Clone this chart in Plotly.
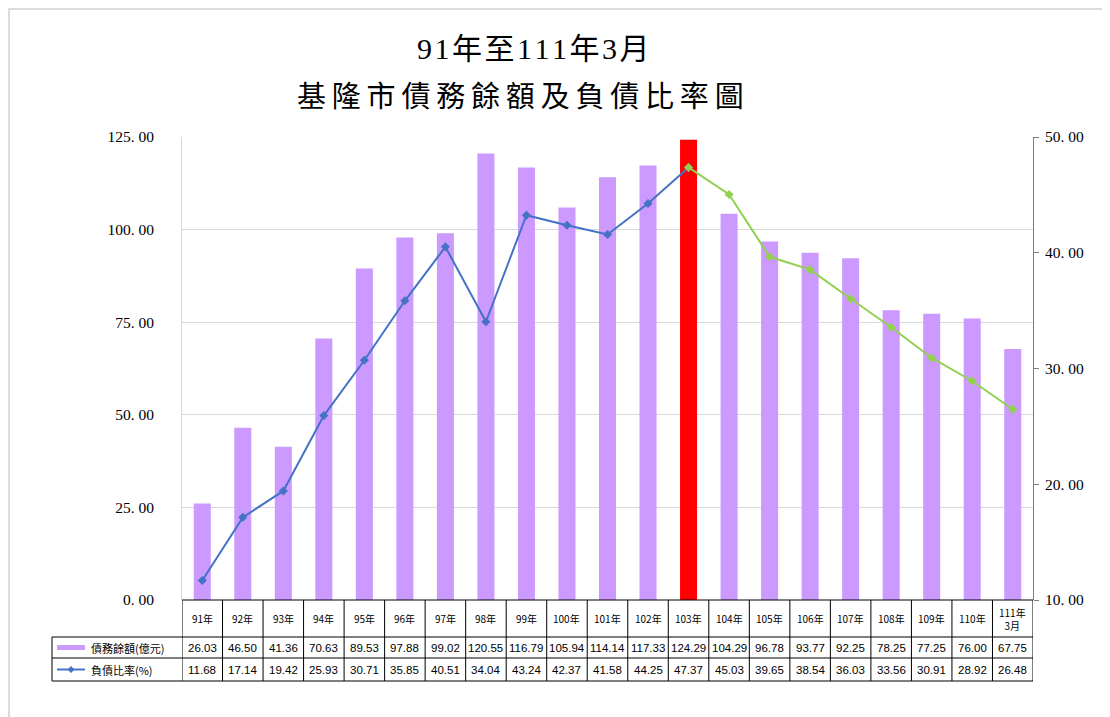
import plotly.graph_objects as go

categories = ["91年", "92年", "93年", "94年", "95年", "96年", "97年", "98年", "99年", "100年",
              "101年", "102年", "103年", "104年", "105年", "106年", "107年", "108年", "109年",
              "110年", "111年<br>3月"]
debt = [26.03, 46.50, 41.36, 70.63, 89.53, 97.88, 99.02, 120.55, 116.79, 105.94,
        114.14, 117.33, 124.29, 104.29, 96.78, 93.77, 92.25, 78.25, 77.25, 76.00, 67.75]
ratio = [11.68, 17.14, 19.42, 25.93, 30.71, 35.85, 40.51, 34.04, 43.24, 42.37,
         41.58, 44.25, 47.37, 45.03, 39.65, 38.54, 36.03, 33.56, 30.91, 28.92, 26.48]
highlight_index = 12
row_labels = ["債務餘額(億元)", "負債比率(%)"]
title_lines = ["91年至111年3月", "基隆市債務餘額及負債比率圖"]

W, H = 1110, 717
OFF = 8  # page body margin
L, R, T, B = 182 - OFF, 1033 - OFF, 137 - OFF, 600 - OFF
n = len(categories)
x = list(range(n))

PURPLE = "#CC99FF"
RED = "#FF0000"
BLUE = "#4472C4"
GREEN = "#92D050"
FONT = "Liberation Serif, Noto Sans CJK TC"
CJK = "Noto Sans CJK TC"

bar_colors = [RED if i == highlight_index else PURPLE for i in x]

fig = go.Figure()
fig.add_trace(go.Bar(x=x, y=debt, marker=dict(color=bar_colors, line=dict(width=0)),
                     width=0.42, yaxis="y", showlegend=False, hoverinfo="y"))
fig.add_trace(go.Scatter(x=x[:highlight_index + 1], y=ratio[:highlight_index + 1], yaxis="y2",
                         mode="lines+markers", line=dict(color=BLUE, width=2),
                         marker=dict(symbol="diamond", size=7, color=BLUE), showlegend=False))
fig.add_trace(go.Scatter(x=x[highlight_index:], y=ratio[highlight_index:], yaxis="y2",
                         mode="lines+markers", line=dict(color=GREEN, width=2),
                         marker=dict(symbol="diamond", size=7, color=GREEN), showlegend=False))


def py(pix):
    return (B - (pix - OFF)) / (B - T)


def px(pix):
    return ((pix - OFF) - L) / (R - L)


shapes = []
annotations = []

# table geometry (reference page pixels)
y_head_top, y_head_bot, y_r1_bot, y_r2_bot = 600, 637, 658, 681
table_left = 52
line = dict(color="#000000", width=1)

shapes.append(dict(type="line", xref="paper", yref="paper", x0=0, x1=1,
                   y0=py(y_head_top), y1=py(y_head_top), line=line))
for yy in [y_head_bot, y_r1_bot, y_r2_bot]:
    shapes.append(dict(type="line", xref="paper", yref="paper", x0=px(table_left), x1=1,
                       y0=py(yy), y1=py(yy), line=line))
for i in range(n + 1):
    shapes.append(dict(type="line", xref="x", yref="paper", x0=i - 0.5, x1=i - 0.5,
                       y0=py(y_head_top), y1=py(y_r2_bot), line=line))
shapes.append(dict(type="line", xref="paper", yref="paper", x0=px(table_left), x1=px(table_left),
                   y0=py(y_head_bot), y1=py(y_r2_bot), line=line))

# outer light border
shapes.append(dict(type="rect", xref="paper", yref="paper", x0=px(OFF + 1), x1=px(1130),
                   y0=py(740), y1=py(OFF + 1), line=dict(color="#D0D0D0", width=1.5)))

for i in x:
    annotations.append(dict(x=i, y=py((y_head_top + y_head_bot) / 2), xref="x", yref="paper",
                            text=categories[i], showarrow=False, xanchor="center",
                            font=dict(family=CJK, size=10, color="#000"), yanchor="middle"))
    annotations.append(dict(x=i, y=py((y_head_bot + y_r1_bot) / 2), xref="x", yref="paper",
                            text=f"{debt[i]:.2f}", showarrow=False, xanchor="center",
                            font=dict(family="Liberation Sans", size=11.5, color="#000"),
                            yanchor="middle"))
    annotations.append(dict(x=i, y=py((y_r1_bot + y_r2_bot) / 2), xref="x", yref="paper",
                            text=f"{ratio[i]:.2f}", showarrow=False, xanchor="center",
                            font=dict(family="Liberation Sans", size=11.5, color="#000"),
                            yanchor="middle"))

# legend keys in row headers
y1p = (y_head_bot + y_r1_bot) / 2
y2p = (y_r1_bot + y_r2_bot) / 2
shapes.append(dict(type="rect", xref="paper", yref="paper", x0=px(57), x1=px(85),
                   y0=py(y1p + 2.5), y1=py(y1p - 2.5), fillcolor=PURPLE, line=dict(width=0)))
shapes.append(dict(type="line", xref="paper", yref="paper", x0=px(57), x1=px(85),
                   y0=py(y2p), y1=py(y2p), line=dict(color=BLUE, width=2)))
cx, d = 71, 3.5
shapes.append(dict(type="path", xref="paper", yref="paper",
                   path=f"M {px(cx - d)} {py(y2p)} L {px(cx)} {py(y2p - d)} L {px(cx + d)} {py(y2p)} "
                        f"L {px(cx)} {py(y2p + d)} Z",
                   fillcolor=BLUE, line=dict(width=0)))
annotations.append(dict(x=px(89), y=py(y1p), xref="paper", yref="paper", text=row_labels[0],
                        showarrow=False, xanchor="left", yanchor="middle",
                        font=dict(family=CJK, size=11, color="#000")))
annotations.append(dict(x=px(89), y=py(y2p), xref="paper", yref="paper", text=row_labels[1],
                        showarrow=False, xanchor="left", yanchor="middle",
                        font=dict(family=CJK, size=11, color="#000")))

# titles
annotations.append(dict(x=px(533), y=py(48), xref="paper", yref="paper",
                        text="\u200a".join(title_lines[0]), showarrow=False,
                        xanchor="center", yanchor="middle",
                        font=dict(family=FONT, size=30, color="#000")))
annotations.append(dict(x=px(520), y=py(97), xref="paper", yref="paper",
                        text="\u2009".join(title_lines[1]), showarrow=False,
                        xanchor="center", yanchor="middle",
                        font=dict(family=FONT, size=29, color="#000")))

fig.update_layout(
    width=W, height=H,
    margin=dict(l=L, r=W - R, t=T, b=H - B),
    paper_bgcolor="white", plot_bgcolor="white",
    xaxis=dict(range=[-0.5, n - 0.5], showticklabels=False, showgrid=False, zeroline=False,
               showline=False, ticks=""),
    yaxis=dict(range=[0, 125], tickvals=[0, 25, 50, 75, 100, 125],
               ticktext=["0. 00", "25. 00", "50. 00", "75. 00", "100. 00", "125. 00"],
               showgrid=True, gridcolor="#D9D9D9", zeroline=False, showline=True,
               linecolor="#D9D9D9", ticks="", ticklabelstandoff=24,
               tickfont=dict(family="Liberation Serif", size=15.5, color="#000")),
    yaxis2=dict(range=[10, 50], tickvals=[10, 20, 30, 40, 50],
                ticktext=["10. 00", "20. 00", "30. 00", "40. 00", "50. 00"],
                overlaying="y", side="right", showgrid=False, zeroline=False, showline=True,
                linecolor="#7F7F7F", ticks="outside", ticklen=5, tickcolor="#7F7F7F",
                ticklabelstandoff=3,
                tickfont=dict(family="Liberation Serif", size=15.5, color="#000")),
    shapes=shapes, annotations=annotations,
)

fig.write_html("out.html")
